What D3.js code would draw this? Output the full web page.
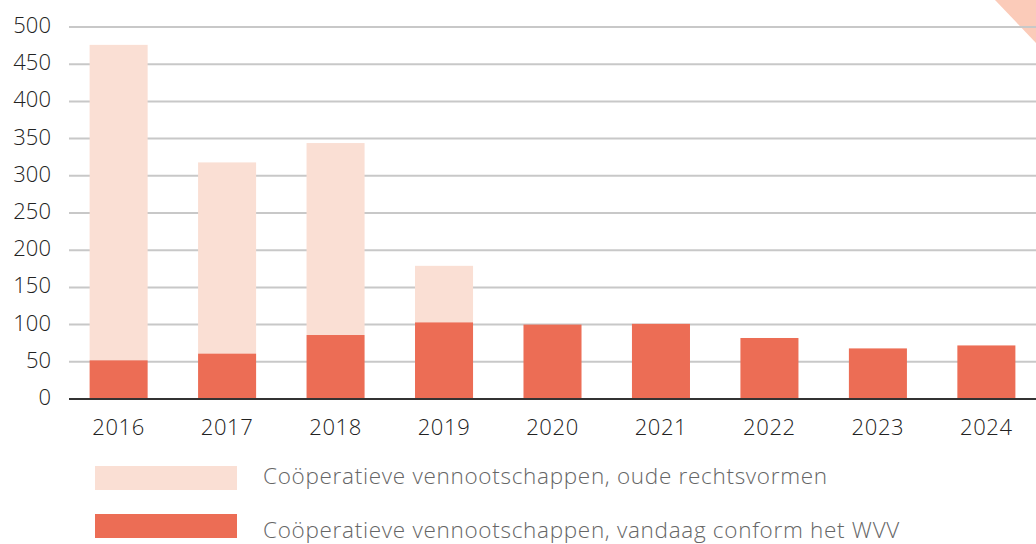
<!DOCTYPE html>
<html><head><meta charset="utf-8">
<script src="https://cdn.jsdelivr.net/npm/d3@7"></script>
<style>body{margin:0;background:#fff}svg{display:block}</style>
</head><body><svg id="c" width="1036" height="544"></svg>
<script>
const years = ["2016","2017","2018","2019","2020","2021","2022","2023","2024"];
const conform = [52, 61, 86, 103, 100, 101, 82, 68, 72];
const oldForms = [424, 257, 258, 76, 0, 0, 0, 0, 0];
const yTicks = [0,50,100,150,200,250,300,350,400,450,500];
const legendLabels = ["Coöperatieve vennootschappen, oude rechtsvormen","Coöperatieve vennootschappen, vandaag conform het WVV"];
const colors = ["#fadfd4", "#ec6d55"];

const svg = d3.select("#c");
const font = "'Open Sans', sans-serif";
const x = d3.scaleBand().domain(years).range([69, 1036]).paddingInner(0.465).paddingOuter(0.19);
const y = d3.scaleLinear().domain([0, 500]).range([399, 27]);

svg.append("polygon").attr("points", "995,0 1036,0 1036,43").attr("fill", "#fbcbb9");

svg.append("g").selectAll("line").data(yTicks.filter(d => d > 0)).join("line")
  .attr("x1", 69).attr("x2", 1036).attr("y1", d => y(d)).attr("y2", d => y(d))
  .attr("stroke", "#c8c8c8").attr("stroke-width", 2);

const stack = years.map((yr, i) => ({yr, a: conform[i], b: oldForms[i]}));
svg.append("g").selectAll("rect").data(stack.filter(d => d.b > 0)).join("rect")
  .attr("x", d => x(d.yr)).attr("width", x.bandwidth())
  .attr("y", d => y(d.a + d.b)).attr("height", d => y(d.a) - y(d.a + d.b))
  .attr("fill", colors[0]);
svg.append("g").selectAll("rect").data(stack).join("rect")
  .attr("x", d => x(d.yr)).attr("width", x.bandwidth())
  .attr("y", d => y(d.a)).attr("height", d => y(0) - y(d.a))
  .attr("fill", colors[1]);

svg.append("line").attr("x1", 69).attr("x2", 1036).attr("y1", y(0)).attr("y2", y(0))
  .attr("stroke", "#333").attr("stroke-width", 2);

svg.append("g").selectAll("text").data(yTicks).join("text")
  .attr("x", 51).attr("y", d => y(d) + 6).attr("text-anchor", "end")
  .attr("font-family", font).attr("font-size", 22).attr("font-weight", 300).attr("fill", "#222")
  .text(d => d);

svg.append("g").selectAll("text").data(years).join("text")
  .attr("x", d => x(d) + x.bandwidth()/2).attr("y", 435).attr("text-anchor", "middle")
  .attr("font-family", font).attr("font-size", 22).attr("font-weight", 300).attr("fill", "#222")
  .attr("letter-spacing", 0.6)
  .text(d => d);

const lg = svg.append("g");
lg.selectAll("rect").data(legendLabels).join("rect")
  .attr("x", 95).attr("y", (d, i) => 466 + i * 48).attr("width", 142).attr("height", 24)
  .attr("fill", (d, i) => colors[i]);
lg.selectAll("text").data(legendLabels).join("text")
  .attr("x", 263).attr("y", (d, i) => 484 + i * 54)
  .attr("font-family", font).attr("font-size", 22.5).attr("font-weight", 300).attr("fill", "#666")
  .attr("letter-spacing", 0.7)
  .text(d => d);
</script></body></html>
